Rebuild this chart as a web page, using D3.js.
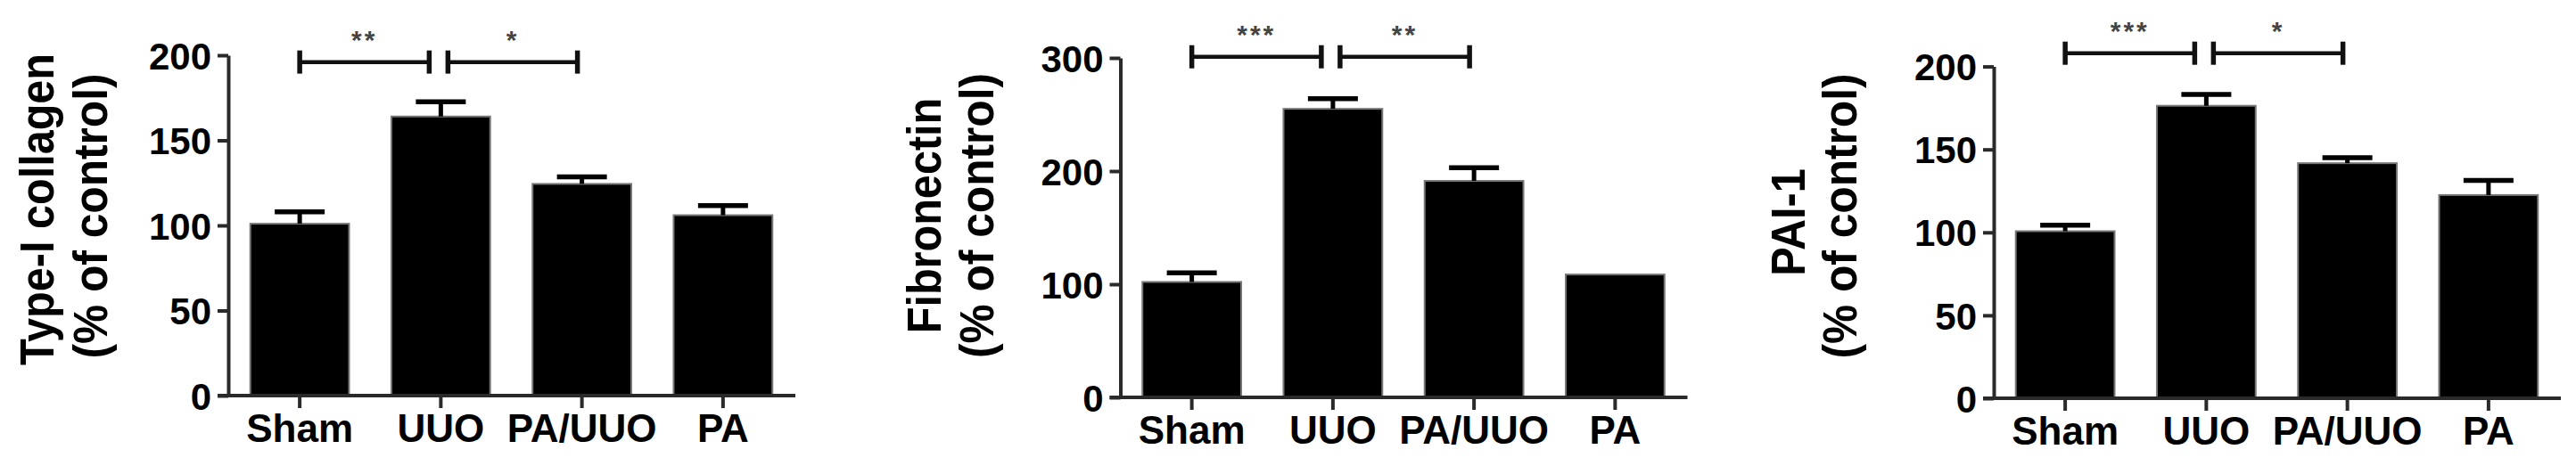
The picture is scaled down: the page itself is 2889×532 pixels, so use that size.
<!DOCTYPE html>
<html>
<head>
<meta charset="utf-8">
<script src="https://cdn.jsdelivr.net/npm/d3@7"></script>
<style>
  html, body { margin: 0; padding: 0; background: #fff; }
  svg { display: block; }
  text { font-family: "Liberation Sans", Arial, sans-serif; font-weight: bold; }
</style>
</head>
<body>
<svg id="chart" width="2889" height="532"></svg>
<script>
// ---------------- data ----------------
const categories = ["Sham", "UUO", "PA/UUO", "PA"];

const collagenMean = [101, 164, 124.4, 106];
const collagenErr  = [7, 8.6, 4.1, 5.7];

const fibronectinMean = [102, 255, 191.3, 108.6];
const fibronectinErr  = [8, 9, 11.7, 0];

const pai1Mean = [100.7, 176.3, 141.7, 122.5];
const pai1Err  = [3.6, 6.9, 3.3, 8.8];

const collagenTicks    = [0, 50, 100, 150, 200];
const fibronectinTicks = [0, 100, 200, 300];
const pai1Ticks        = [0, 50, 100, 150, 200];

const collagenTitle    = ["Type-I collagen", "(% of control)"];
const fibronectinTitle = ["Fibronectin", "(% of control)"];
const pai1Title        = ["PAI-1", "(% of control)"];

// significance comparisons: [from index, to index, label]
const collagenSig    = [[0, 1, "**"], [1, 2, "*"]];
const fibronectinSig = [[0, 1, "***"], [1, 2, "**"]];
const pai1Sig        = [[0, 1, "***"], [1, 2, "*"]];

// bracket level in data units
const collagenBracket    = 196;
const fibronectinBracket = 301;
const pai1Bracket        = 208;

// ---------------- layout ----------------
const panels = [
  { mean: collagenMean, err: collagenErr, ticks: collagenTicks, title: collagenTitle,
    sig: collagenSig, bracket: collagenBracket,
    axisX: 256, y0: 444, yTop: 62, t1: [60, 235], t2: [119.5, 242.5] },
  { mean: fibronectinMean, err: fibronectinErr, ticks: fibronectinTicks, title: fibronectinTitle,
    sig: fibronectinSig, bracket: fibronectinBracket,
    axisX: 1256.5, y0: 446, yTop: 65, t1: [1054.5, 242], t2: [1114, 242] },
  { mean: pai1Mean, err: pai1Err, ticks: pai1Ticks, title: pai1Title,
    sig: pai1Sig, bracket: pai1Bracket,
    axisX: 2236, y0: 447, yTop: 74.6, t1: [2024, 249.5], t2: [2082, 242.5] }
];

const svg = d3.select("#chart");
svg.append("rect").attr("width", 2889).attr("height", 532).attr("fill", "#fff");

const axisColor = "#2a2a2a";

panels.forEach(p => {
  const g = svg.append("g");
  const yMax = d3.max(p.ticks);
  const y = d3.scaleLinear().domain([0, yMax]).range([p.y0, p.yTop]);
  const x = d3.scaleBand().domain(categories)
    .range([p.axisX + 1, p.axisX + 634])
    .paddingInner(0.3).paddingOuter(0.15);

  // bars
  g.selectAll("rect.bar").data(categories).enter().append("rect")
    .attr("class", "bar")
    .attr("x", d => x(d))
    .attr("width", x.bandwidth())
    .attr("y", (d, i) => y(p.mean[i]))
    .attr("height", (d, i) => y(0) - y(p.mean[i]))
    .attr("fill", "#000")
    .attr("stroke", "#777")
    .attr("stroke-width", 2);

  // error bars (upper)
  const capW = 56;
  categories.forEach((c, i) => {
    if (!p.err[i]) return;
    const cx = x(c) + x.bandwidth() / 2;
    g.append("line")
      .attr("x1", cx).attr("x2", cx)
      .attr("y1", y(p.mean[i])).attr("y2", y(p.mean[i] + p.err[i]))
      .attr("stroke", "#000").attr("stroke-width", 5);
    g.append("line")
      .attr("x1", cx - capW / 2).attr("x2", cx + capW / 2)
      .attr("y1", y(p.mean[i] + p.err[i])).attr("y2", y(p.mean[i] + p.err[i]))
      .attr("stroke", "#000").attr("stroke-width", 5.5);
  });

  // y axis
  const yAxis = d3.axisLeft(y).tickValues(p.ticks).tickSize(12).tickPadding(7).tickSizeOuter(0);
  const ya = g.append("g").attr("transform", `translate(${p.axisX},0)`).call(yAxis);
  ya.select(".domain").attr("stroke", axisColor).attr("stroke-width", 4);
  ya.selectAll(".tick line").attr("stroke", axisColor).attr("stroke-width", 4);
  ya.selectAll(".tick text")
    .attr("fill", "#000")
    .style("font-size", "42px")
    .attr("dy", "0.36em");

  // x axis
  const xAxis = d3.axisBottom(x).tickSize(14).tickPadding(7).tickSizeOuter(0);
  const xa = g.append("g").attr("transform", `translate(0,${p.y0})`).call(xAxis);
  xa.select(".domain").remove();
  xa.append("line")
    .attr("x1", p.axisX - 12).attr("x2", x.range()[1] + 2)
    .attr("y1", 0).attr("y2", 0)
    .attr("stroke", axisColor).attr("stroke-width", 4);
  xa.selectAll(".tick line").attr("stroke", axisColor).attr("stroke-width", 4);
  xa.selectAll(".tick text")
    .attr("fill", "#000")
    .style("font-size", "44px");

  // y titles
  g.append("text")
    .attr("transform", `translate(${p.t1[0]},${p.t1[1]}) rotate(-90) scale(0.9,1)`)
    .attr("text-anchor", "middle")
    .style("font-size", "54px")
    .attr("fill", "#000")
    .text(p.title[0]);
  g.append("text")
    .attr("transform", `translate(${p.t2[0]},${p.t2[1]}) rotate(-90) scale(0.92,1)`)
    .attr("text-anchor", "middle")
    .style("font-size", "54px")
    .attr("fill", "#000")
    .text(p.title[1]);

  // significance brackets
  const by = y(p.bracket);
  const cxOf = i => x(categories[i]) + x.bandwidth() / 2;
  p.sig.forEach((s, k) => {
    const xa1 = cxOf(s[0]) + (k === 0 ? 0 : 8);
    const xa2 = cxOf(s[1]) - (k === 0 ? 13 : 5);
    g.append("line").attr("x1", xa1).attr("x2", xa2).attr("y1", by).attr("y2", by)
      .attr("stroke", "#111").attr("stroke-width", 4.5);
    [xa1, xa2].forEach(xx => {
      g.append("line").attr("x1", xx).attr("x2", xx).attr("y1", by - 13).attr("y2", by + 13)
        .attr("stroke", "#111").attr("stroke-width", 5.5);
    });
    g.append("text")
      .attr("x", (xa1 + xa2) / 2)
      .attr("y", by - 32 + 17)
      .attr("text-anchor", "middle")
      .style("font-size", "30px")
      .style("letter-spacing", "3px")
      .attr("fill", "#444")
      .text(s[2]);
  });
});
</script>
</body>
</html>
